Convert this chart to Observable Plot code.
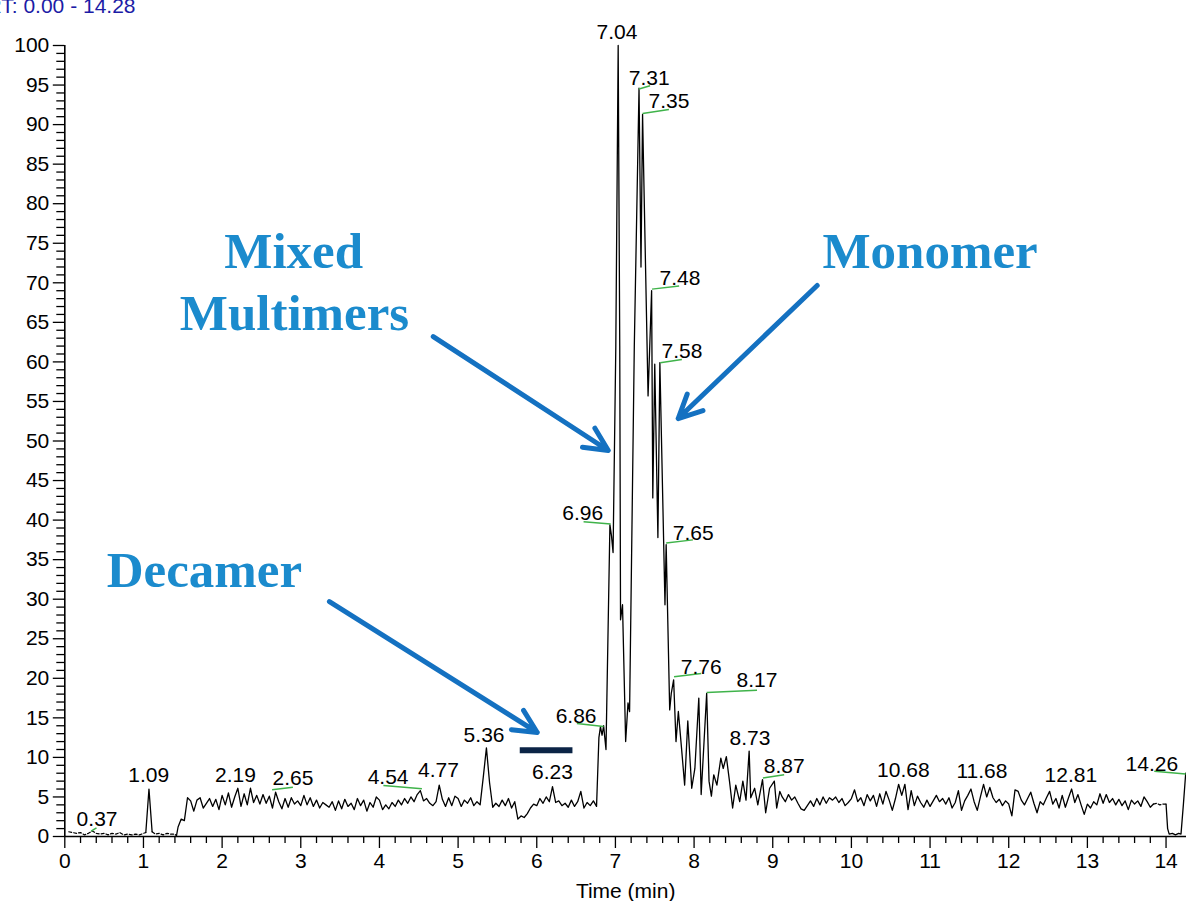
<!DOCTYPE html>
<html>
<head>
<meta charset="utf-8">
<script src="https://cdn.jsdelivr.net/npm/d3@7"></script>
<script src="https://cdn.jsdelivr.net/npm/@observablehq/plot@0.6"></script>
<style>
html,body{margin:0;padding:0;background:#fff;}
#chart{width:1186px;height:901px;overflow:hidden;}
</style>
</head>
<body>
<div id="chart"></div>
<script>
// ---------- DATA ----------
// flat start of the trace incl. the small 1.09 peak
const leadTimes  = [0.05,0.10,0.15,0.20,0.25,0.30,0.35,0.40,0.45,0.50,0.55,0.60,0.65,0.70,0.75,0.80,0.85,0.90,0.95,1.00,1.03,1.07,1.11,1.15,1.20,1.25,1.30,1.35,1.40,1.42];
const leadValues = [0.6,0.5,0.4,0.5,0.2,0.4,0.7,0.4,0.3,0.4,0.2,0.4,0.3,0.5,0.2,0.3,0.2,0.3,0.2,0.4,0.5,6.0,0.6,0.3,0.4,0.2,0.4,0.3,0.3,0.1];

// baseline noise sampled every 0.04 min, from 1.44 to 6.76 min
const noiseAStart = 1.44;
const noiseStep = 0.04;
const noiseA = [
 1.2,2.2,2.0,4.9,4.5,3.2,4.6,4.9,3.6,4.2,
 4.8,3.8,4.7,3.4,5.2,4.0,5.5,3.7,5.0,6.1,
 3.8,5.4,4.0,6.1,4.3,5.2,4.1,5.3,4.2,5.1,
 3.6,5.6,4.4,3.5,4.8,3.7,4.9,4.1,4.5,3.9,
 5.2,4.0,4.9,3.8,4.6,3.6,4.3,4.0,3.7,4.4,
 3.3,4.5,3.5,4.7,3.8,4.2,3.4,4.8,3.9,4.6,
 3.2,4.3,3.7,5.0,4.6,3.4,4.0,3.5,4.3,3.8,
 4.6,4.0,4.8,4.2,5.0,4.4,5.3,5.8,4.5,4.8,
 4.2,3.9,4.4,6.5,4.7,3.8,4.9,3.9,5.1,4.8,
 3.8,4.6,4.2,4.9,3.9,4.4,4.0,7.5,11.2,6.8,
 3.7,4.2,3.8,4.6,3.9,4.8,3.6,4.4,2.2,2.6,
 2.4,2.9,3.6,4.1,3.9,4.8,4.2,5.0,4.4,6.3,
 4.3,4.5,3.9,4.2,3.7,4.6,3.8,4.4,5.7,3.6,
 4.3,3.9,4.5,3.8
];

// main elution region
const peakTimes  = [6.79,6.81,6.83,6.85,6.87,6.88,6.93,6.95,6.97,7.005,7.035,7.055,7.065,7.09,7.13,7.16,7.18,7.24,7.30,7.325,7.345,7.415,7.46,7.475,7.50,7.54,7.565,7.63,7.645,7.69,7.71,7.74,7.77,7.80,7.84,7.88,7.92,7.97,8.01,8.06,8.09,8.16,8.19,8.22,8.25,8.29,8.34,8.37,8.41,8.45,8.49,8.53,8.58,8.62,8.66,8.70,8.72,8.77,8.81,8.87,8.91,8.96,9.02,9.05,9.09];
const peakValues = [12.5,13.9,12.8,14.0,12.0,11.0,39.4,38.0,35.9,62,100,62,27.4,29.3,12.0,16.9,15.8,62,94.6,72,91.3,55.7,69.0,42.8,59.7,37.8,59.9,29.3,36.9,16.0,18.1,19.8,12.0,15.8,11.2,6.5,14.6,6.1,8.6,17.5,5.3,18.1,7.0,5.1,7.8,6.5,9.9,8.6,10.1,7.0,3.6,6.5,4.4,7.0,4.6,10.8,4.9,6.1,4.0,7.2,3.0,6.1,7.0,3.6,5.7];

// baseline noise sampled every 0.04 min, from 9.12 to 13.84 min
const noiseBStart = 9.12;
const noiseB = [
 5.0,4.4,5.3,4.6,5.0,4.2,3.5,3.3,3.9,4.5,
 3.8,4.8,4.0,5.0,4.2,4.9,4.6,5.0,4.3,4.8,
 3.9,4.3,4.8,5.9,4.4,4.9,3.9,5.3,4.5,5.2,
 3.8,5.4,4.1,5.7,4.6,3.3,4.8,6.6,5.2,6.6,
 3.4,5.8,3.9,5.1,4.3,3.7,4.6,3.8,4.5,5.2,
 4.4,4.8,4.1,4.9,3.6,4.3,5.8,3.3,4.5,5.2,
 6.0,4.4,3.3,5.0,6.6,5.0,6.2,4.9,4.3,4.7,
 3.9,4.5,4.1,2.6,5.9,5.7,4.6,4.0,4.8,5.6,
 4.2,3.0,4.4,4.0,4.9,5.7,4.1,4.8,3.6,5.2,
 3.7,4.9,6.0,4.3,5.3,4.0,2.8,4.1,3.6,4.4,
 4.0,5.4,4.2,5.3,4.3,4.8,4.0,4.7,3.9,4.5,
 3.4,4.6,4.1,4.5,3.8,5.0,4.4,3.7,4.1
];

// end of run
const tailTimes  = [13.88,13.92,13.96,14.00,14.02,14.04,14.08,14.12,14.16,14.19,14.22,14.25];
const tailValues = [4.2,4.0,4.1,4.1,1.0,0.3,0.4,0.2,0.4,0.3,4.0,8.0];

// time ranges drawn dashed / solid
const dashedRanges = [[0.05,1.03],[1.11,1.42],[13.84,14.00]];
const solidRanges  = [[1.03,1.11],[1.42,13.84],[14.00,14.26]];

// peak retention-time labels: text, label x (min), label baseline (%)
const labelText = ["0.37","1.09","2.19","2.65","4.54","4.77","5.36","6.23","6.86","6.96","7.04","7.31","7.35","7.48","7.58","7.65","7.76","8.17","8.73","8.87","10.68","11.68","12.81","14.26"];
const labelX    = [0.41,1.067,2.17,2.90,4.11,4.75,5.33,6.20,6.50,6.585,7.02,7.43,7.68,7.82,7.845,7.99,8.09,8.80,8.71,9.145,10.66,11.66,12.79,13.82];
const labelY    = [1.3,6.95,6.95,6.45,6.7,7.46,12.0,7.33,14.3,39.95,100.85,95.0,92.1,69.7,60.5,37.5,20.6,18.9,11.6,8.0,7.5,7.4,6.9,8.34];

// green leader lines: [t1, v1, t2, v2]
const leaders = [
 [0.335,0.67,0.403,1.1],
 [2.635,5.9,2.90,6.23],
 [4.54,6.03,4.05,6.45],
 [6.85,13.9,6.51,14.3],
 [6.94,39.5,6.595,39.8],
 [7.30,94.5,7.44,94.9],
 [7.345,91.4,7.68,91.9],
 [7.465,69.2,7.81,69.6],
 [7.57,59.9,7.845,60.3],
 [7.645,37.1,7.985,37.5],
 [7.745,20.2,8.09,20.6],
 [8.16,18.2,8.80,18.5],
 [8.875,7.4,9.145,7.8],
 [14.25,7.9,13.85,8.25]
];

// annotations
const annotText = ["Mixed","Multimers","Monomer","Decamer"];
const annotX    = [2.91,2.92,11.0,1.775];
const annotY    = [71.9,64.0,71.9,31.5];

// arrows: [t1, v1, t2 (tip), v2 (tip)]
const arrows = [
 [4.684,63.2,6.909,48.8],
 [9.565,69.66,7.798,52.84],
 [3.364,29.7,6.006,13.15]
];

// decamer bar
const decamerBar = [{x1:5.79, x2:6.46, y:10.9}];

// ticks
const xMajorTicks = [0,1,2,3,4,5,6,7,8,9,10,11,12,13,14];
const yMajorTicks = [0,5,10,15,20,25,30,35,40,45,50,55,60,65,70,75,80,85,90,95,100];
const xMinorTicks = d3.range(0,71).map(i => +(i*0.2).toFixed(1)).filter(d => d % 1 !== 0 && d <= 14.26);
const yMinorTicks = d3.range(0,101).filter(d => d % 5 !== 0);

// header text (cut off at the top)
const headerText = ["RT: 0.00 - 14.28"];
const headerX = [0.899];
const headerY = [104.05];

// ---------- BUILD ----------
const series = [];
leadTimes.forEach((t,i) => series.push({t, v: leadValues[i]}));
noiseA.forEach((v,i) => series.push({t: +(noiseAStart + i*noiseStep).toFixed(2), v}));
peakTimes.forEach((t,i) => series.push({t, v: peakValues[i]}));
noiseB.forEach((v,i) => series.push({t: +(noiseBStart + i*noiseStep).toFixed(2), v}));
tailTimes.forEach((t,i) => series.push({t, v: tailValues[i]}));
series.sort((a,b) => a.t - b.t);

function pick(ranges) {
  const out = [];
  ranges.forEach(([a,b],k) => series.filter(d => d.t >= a - 1e-9 && d.t <= b + 1e-9).forEach(d => out.push({...d, seg:k})));
  return out;
}
const solidPts = pick(solidRanges);
const dashedPts = pick(dashedRanges);

const labels = labelText.map((s,i) => ({s, x: labelX[i], y: labelY[i]}));
const leaderData = leaders.map(([x1,y1,x2,y2]) => ({x1,y1,x2,y2}));
const annots = annotText.map((s,i) => ({s, x: annotX[i], y: annotY[i]}));
const arrowData = arrows.map(([x1,y1,x2,y2]) => ({x1,y1,x2,y2}));
const header = headerText.map((s,i) => ({s, x: headerX[i], y: headerY[i]}));

const sans = "'Liberation Sans', Arial, Helvetica, sans-serif";

const chart = Plot.plot({
  width: 1186,
  height: 901,
  marginLeft: 64.3,
  marginRight: 0,
  marginTop: 45,
  marginBottom: 65,
  x: {domain: [0, 14.26]},
  y: {domain: [0, 100]},
  style: {fontFamily: sans, fontSize: "21px", background: "white", color: "black"},
  marks: [
    // axes
    Plot.axisY({ticks: yMinorTicks, tickSize: 8, tickFormat: () => "", fill: "none", label: null, strokeWidth: 1.3}),
    Plot.axisY({ticks: yMajorTicks, tickSize: 11.5, tickPadding: 4, label: null, strokeWidth: 1.3, fontSize: 21}),
    Plot.axisX({ticks: xMinorTicks, tickSize: 7, tickFormat: () => "", fill: "none", label: null, strokeWidth: 1.3}),
    Plot.axisX({ticks: xMajorTicks, tickSize: 12, tickPadding: 5, label: null, strokeWidth: 1.3, fontSize: 21}),
    Plot.ruleX([0], {y1: 0, y2: 100, stroke: "black", strokeWidth: 1.6}),
    Plot.ruleY([0], {x1: 0, x2: 14.26, stroke: "black", strokeWidth: 1.6}),
    Plot.text(["Time (min)"], {frameAnchor: "bottom", dy: 61, lineAnchor: "bottom", fontSize: 21, fill: "black"}),

    // trace
    Plot.line(dashedPts, {x: "t", y: "v", z: "seg", stroke: "black", strokeWidth: 1.2, strokeDasharray: "3,2"}),
    Plot.line(solidPts, {x: "t", y: "v", z: "seg", stroke: "black", strokeWidth: 1.3}),

    // leader lines and peak labels
    Plot.link(leaderData, {x1: "x1", y1: "y1", x2: "x2", y2: "y2", stroke: "#3fb34a", strokeWidth: 1.5}),
    Plot.text(labels, {x: "x", y: "y", text: "s", lineAnchor: "bottom", textAnchor: "middle", fontSize: 21, fill: "black"}),

    // decamer bar
    Plot.ruleY(decamerBar, {x1: "x1", x2: "x2", y: "y", stroke: "#0b2446", strokeWidth: 6}),

    // arrows
    Plot.arrow(arrowData, {x1: "x1", y1: "y1", x2: "x2", y2: "y2", stroke: "#1471c1", strokeWidth: 5, headLength: 7.8, headAngle: 52}),

    // annotation words
    Plot.text(annots, {x: "x", y: "y", text: "s", lineAnchor: "bottom", textAnchor: "middle",
      fontFamily: "'Liberation Serif', 'Times New Roman', serif", fontWeight: "bold", fontSize: 51, fill: "#1b8bcd"}),

    // header (cut off)
    Plot.text(header, {x: "x", y: "y", text: "s", lineAnchor: "bottom", textAnchor: "end", fontSize: 21, fill: "#1c1ca6"})
  ]
});
document.getElementById("chart").appendChild(chart);
</script>
</body>
</html>
